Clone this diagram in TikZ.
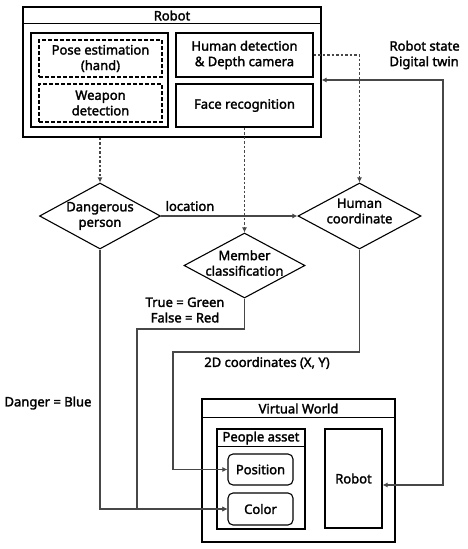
\documentclass[tikz,border=0pt]{standalone}
\usepackage{fontspec}
\setmainfont{Noto Sans}[BoldFont={Noto Sans},BoldFeatures={FakeBold=2}]
\usetikzlibrary{shapes.geometric}
\usetikzlibrary{arrows.meta}
\definecolor{flowgray}{HTML}{474747}

\begin{document}
\begin{tikzpicture}[x=1pt,y=-1pt,line width=1.1pt,
  font=\fontsize{13}{15.5}\selectfont\bfseries,
  every node/.style={align=center,inner sep=0pt},
  box/.style={draw,rectangle},
  dashbox/.style={draw,rectangle,dash pattern=on 4pt off 2pt},
  roundbox/.style={draw,rectangle,rounded corners=5pt},
  decision/.style={draw,diamond,minimum width=121pt,minimum height=66pt},
  flow/.style={draw=flowgray,line width=1.6pt,-{Latex[length=5pt,width=5pt]}},
  dots/.style={flow,dash pattern=on 2.5pt off 2pt}]
  \useasboundingbox (0,0) rectangle (467,549);

  % robot block
  \node[box,minimum width=298pt,minimum height=130pt] (robot) at (172,72) {};
  \draw ([yshift=-17pt]robot.north west) -- ([yshift=-17pt]robot.north east);
  \node (robottitle) at (172,15.5) {Robot};
  \node[box,minimum width=137pt,minimum height=94pt] (vision) at (99.5,80) {};
  \node[dashbox,minimum width=123pt,minimum height=37pt] (pose) at (100.5,58.5) {Pose estimation\\(hand)};
  \node[dashbox,minimum width=123pt,minimum height=38pt] (weapon) at (100.5,103) {Weapon\\detection};
  \node[box,minimum width=137pt,minimum height=44pt] (humdet) at (244.5,55) {Human detection\\\& Depth camera};
  \node[box,minimum width=137pt,minimum height=43pt] (face) at (244.5,105.5) {Face recognition};
  \node[anchor=west,align=left] (twinlabel) at (389,55) {Robot state\\Digital twin};

  % decisions
  \node[decision] (dang) at (100,216) {};
  \node (dangtext) at (100,216) {Dangerous\\person};
  \node[decision,minimum width=123pt] (hcoord) at (359.5,216) {};
  \node (hcoordtext) at (359.5,211) {Human\\coordinate};
  \node[decision,minimum height=65pt] (member) at (244.5,265.5) {};
  \node (membertext) at (244.5,263) {Member\\classification};

  % virtual world
  \node[box,minimum width=193pt,minimum height=143pt] (world) at (298.5,470.5) {};
  \draw ([yshift=-19pt]world.north west) -- ([yshift=-19pt]world.north east);
  \node (worldtitle) at (298.5,408.5) {Virtual World};
  \node[box,minimum width=88pt,minimum height=100pt] (people) at (261,479) {};
  \draw ([yshift=-18pt]people.north west) -- ([yshift=-18pt]people.north east);
  \node (peopletitle) at (261,438) {People asset};
  \node[roundbox,minimum width=65pt,minimum height=31pt] (pos) at (260.5,469.5) {Position};
  \node[roundbox,minimum width=65pt,minimum height=32pt] (color) at (260.5,509) {Color};
  \node[box,minimum width=57pt,minimum height=99pt] (vrobot) at (353.5,478.5) {Robot};

  % bends
  \coordinate (twin) at (443,80);
  \coordinate (mbend) at (137,329);
  \coordinate (hbend) at (173,352);

  % dotted links
  \draw[dots] (dang.north |- robot.south) -- (dang.north);
  \draw[dots] (face.south) -- (member.north);
  \draw[dots] (humdet.east) -| (hcoord.north);

  % solid links
  \draw[flow] (dang.east) -- (hcoord.west);
  \node (loclabel) at (190,206) {location};
  \draw[flow] (dang.south) |- (color.west);
  \draw[flow] (member.south) |- (mbend) |- (color.west);
  \draw[flow] (hcoord.south) |- (hbend) |- (pos.west);
  \draw[flow,{Latex[length=5pt,width=5pt]}-{Latex[length=5pt,width=5pt]}] (robot.east |- twin) -- (twin) |- ([yshift=-6.5pt]vrobot.east);

  % labels
  \node (memberlabel) at (185,310) {True = Green\\False = Red};
  \node (coordlabel) at (267,363) {2D coordinates (X, Y)};
  \node (dangerlabel) at (48,403) {Danger = Blue};
\end{tikzpicture}
\end{document}
